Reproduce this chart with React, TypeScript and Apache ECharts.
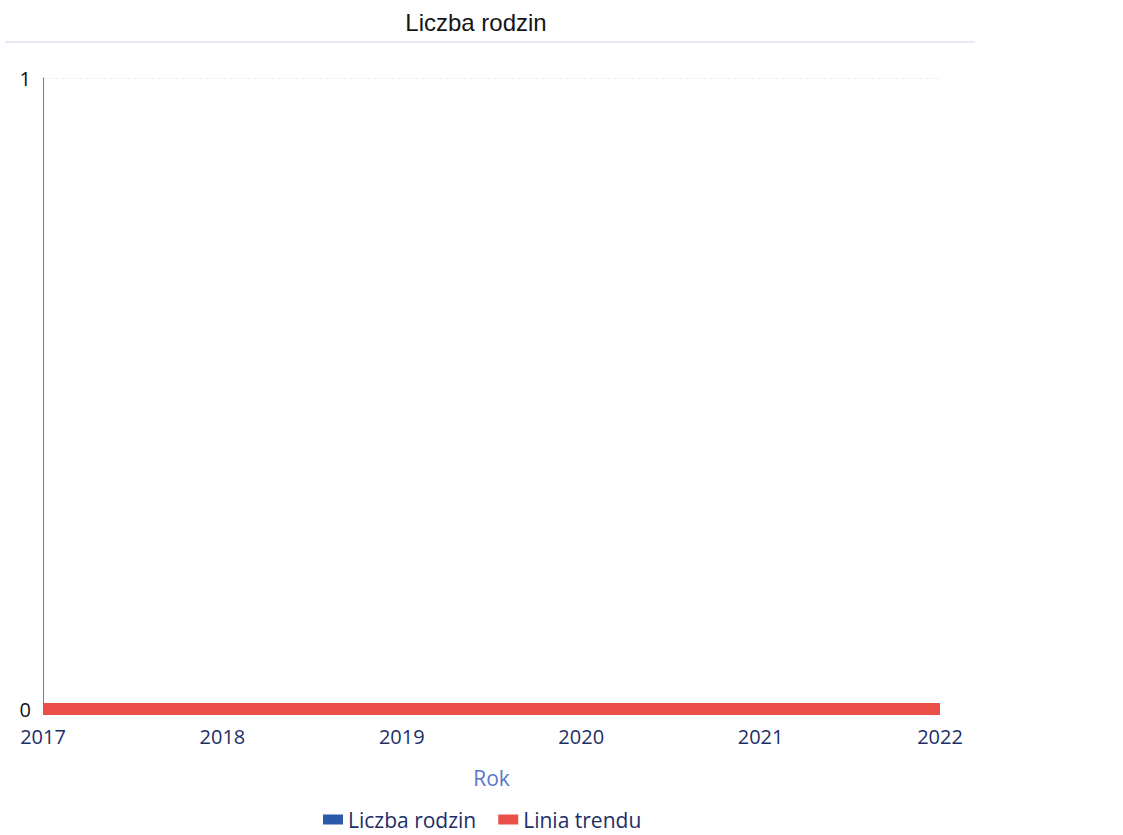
import React, { useEffect, useRef } from "react";
import * as echarts from "echarts";

const years = [2017, 2018, 2019, 2020, 2021, 2022];
const familyCounts = [0, 0, 0, 0, 0, 0];
const trendValues = [0, 0, 0, 0, 0, 0];
const titleText = "Liczba rodzin";
const seriesNames = ["Liczba rodzin", "Linia trendu"];

export default function App() {
  const ref = useRef<HTMLDivElement>(null);
  useEffect(() => {
    if (!ref.current) return;
    const chart = echarts.init(ref.current, null, { renderer: "svg" });
    const font = "'Open Sans', 'Noto Sans', sans-serif";
    chart.setOption({
      animation: false,
      backgroundColor: "#ffffff",
      title: {
        text: titleText,
        left: 471,
        textAlign: "center",
        top: 5,
        textStyle: { fontFamily: "'Liberation Sans', Arial, sans-serif", fontSize: 24, fontWeight: "normal", color: "#151515" },
      },
      graphic: [
        { type: "line", shape: { x1: 5, y1: 42, x2: 975, y2: 42 }, style: { stroke: "#e8e8f4", lineWidth: 2 } },
      ],
      legend: {
        bottom: 0,
        left: 318,
        data: seriesNames,
        icon: "rect",
        itemWidth: 20,
        itemHeight: 10,
        itemGap: 22,
        textStyle: { fontFamily: font, fontSize: 21, color: "#1c2f66" },
      },
      grid: { left: 43, right: 183, top: 78, bottom: 126, containLabel: false },
      xAxis: {
        type: "value",
        min: 2017,
        max: 2022,
        interval: 1,
        name: "Rok",
        nameLocation: "middle",
        nameGap: 58,
        nameTextStyle: { fontFamily: font, fontSize: 21, color: "#5577cc" },
        axisLine: { show: false },
        axisTick: { show: false },
        splitLine: { show: false },
        axisLabel: { fontFamily: font, fontSize: 20, color: "#1c2f66", margin: 17, formatter: (v: number) => String(v) },
      },
      yAxis: {
        type: "value",
        min: 0,
        max: 1,
        interval: 1,
        axisLine: { show: true, lineStyle: { color: "#5a7fd8", width: 1 } },
        axisTick: { show: false },
        splitLine: { show: true, lineStyle: { color: "#eeeeee", type: "dashed" } },
        axisLabel: { fontFamily: font, fontSize: 20, color: "#111111", margin: 12 },
      },
      series: [
        {
          name: seriesNames[0],
          type: "line",
          data: years.map((y, i) => [y, familyCounts[i]]),
          symbol: "none",
          lineStyle: { color: "#2b5ba8", width: 3 },
          itemStyle: { color: "#2b5ba8" },
        },
        {
          name: seriesNames[1],
          type: "line",
          data: years.map((y, i) => [y, trendValues[i]]),
          symbol: "none",
          lineStyle: { color: "#ea5049", width: 12, cap: "butt" },
          itemStyle: { color: "#ea5049" },
        },
      ],
    });
    return () => chart.dispose();
  }, []);
  return <div ref={ref} style={{ position: "absolute", left: 0, top: 0, width: 1123, height: 835 }} />;
}
